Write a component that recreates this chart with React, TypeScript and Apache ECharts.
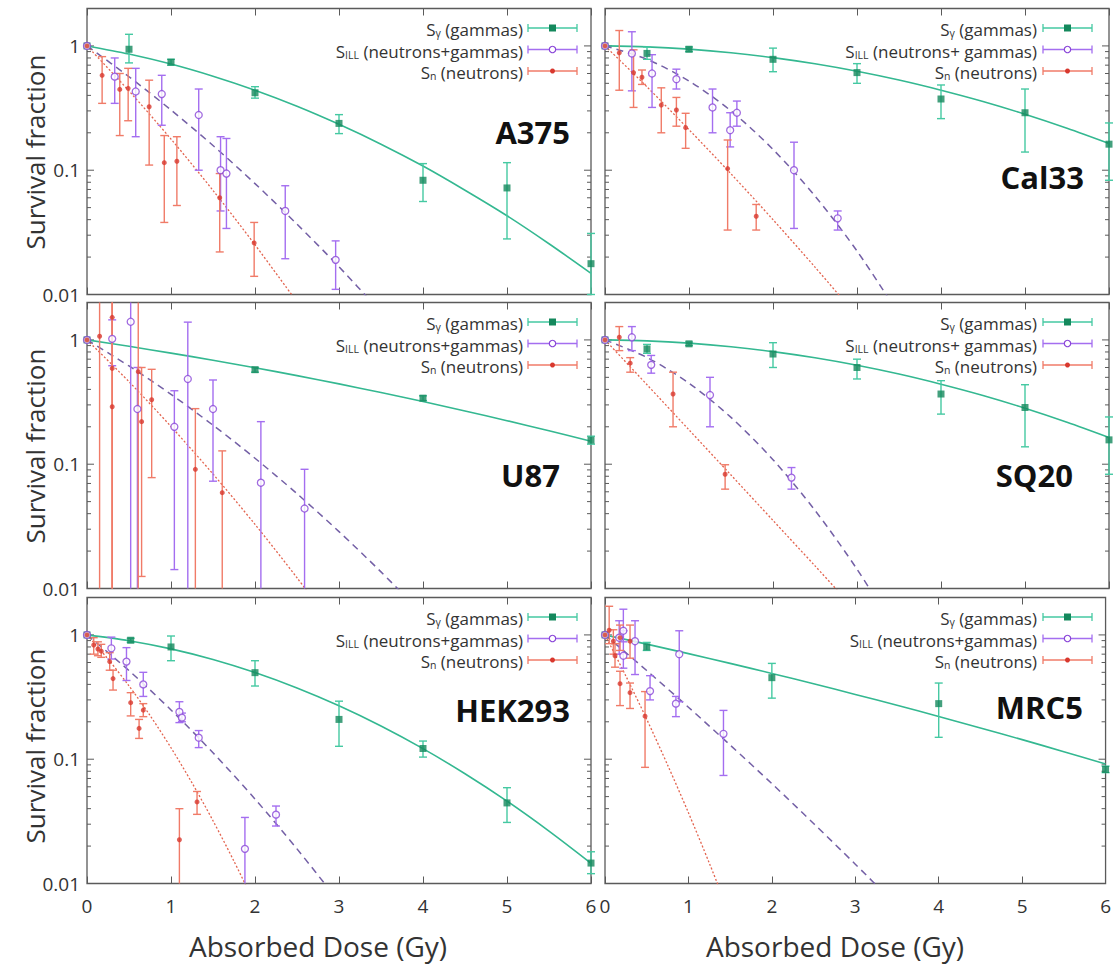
import React, { useEffect, useRef } from 'react';
import * as echarts from 'echarts';

const FONT = '"Open Sans", "DejaVu Sans", sans-serif';

// ---- axis ticks ----
const doseTicks = [0, 1, 2, 3, 4, 5, 6];
const sfMajorTicks = [0.01, 0.1, 1];
const sfMinorTicks = [0.02, 0.03, 0.04, 0.05, 0.06, 0.07, 0.08, 0.09, 0.2, 0.3, 0.4, 0.5, 0.6, 0.7, 0.8, 0.9];
const sfTickLabels = ['0.01', '0.1', '1'];

// ---- measured points: [dose (Gy), survival fraction, low, high] ----
const a375Gamma = [[0, 1, 1, 1], [0.5, 0.94, 0.73, 1.24], [1, 0.74, 0.7, 0.78], [2, 0.42, 0.38, 0.47], [3, 0.238, 0.197, 0.28], [4, 0.083, 0.056, 0.113], [5, 0.072, 0.028, 0.115], [6, 0.0177, 0.01, 0.031]];
const a375Ill = [[0, 1, 1, 1], [0.33, 0.566, 0.345, 0.8], [0.58, 0.43, 0.186, 0.66], [0.89, 0.41, 0.23, 0.58], [1.33, 0.278, 0.1, 0.45], [1.59, 0.1, 0.047, 0.186], [1.66, 0.094, 0.034, 0.18], [2.36, 0.047, 0.0194, 0.075], [2.96, 0.019, 0.011, 0.027]];
const a375N = [[0, 1, 1, 1], [0.18, 0.58, 0.345, 0.82], [0.39, 0.447, 0.19, 0.6], [0.49, 0.456, 0.25, 0.66], [0.74, 0.324, 0.11, 0.53], [0.92, 0.115, 0.038, 0.19], [1.07, 0.118, 0.052, 0.186], [1.58, 0.06, 0.022, 0.094], [1.99, 0.026, 0.014, 0.038]];

const cal33Gamma = [[0, 1, 1, 1], [0.5, 0.87, 0.78, 0.98], [1, 0.94, 0.9, 0.98], [2, 0.78, 0.62, 0.96], [3, 0.61, 0.5, 0.72], [4, 0.374, 0.26, 0.485], [5, 0.29, 0.14, 0.45], [6, 0.162, 0.083, 0.24]];
const cal33Ill = [[0, 1, 1, 1], [0.32, 0.87, 0.435, 1.3], [0.56, 0.6, 0.32, 0.85], [0.85, 0.54, 0.45, 0.65], [1.28, 0.32, 0.2, 0.45], [1.49, 0.21, 0.154, 0.29], [1.57, 0.29, 0.226, 0.36], [2.25, 0.1, 0.034, 0.168], [2.77, 0.041, 0.033, 0.047]];
const cal33N = [[0, 1, 1, 1], [0.17, 0.88, 0.44, 1.33], [0.34, 0.61, 0.32, 0.93], [0.44, 0.56, 0.49, 0.64], [0.67, 0.334, 0.2, 0.46], [0.85, 0.305, 0.226, 0.385], [0.96, 0.22, 0.15, 0.287], [1.46, 0.103, 0.033, 0.175], [1.8, 0.0426, 0.033, 0.053]];

const u87Gamma = [[0, 1, 1, 1], [2, 0.576, 0.55, 0.6], [4, 0.34, 0.325, 0.355], [6, 0.156, 0.145, 0.168]];
const u87Ill = [[0, 1, 1, 1], [0.3, 1.02, 0.62, 1.45], [0.52, 1.4, 0.005, 3], [0.6, 0.278, 0.005, 0.6], [1.04, 0.2, 0.0142, 0.39], [1.2, 0.485, 0.005, 1.39], [1.5, 0.278, 0.073, 0.476], [2.07, 0.071, 0.005, 0.22], [2.59, 0.044, 0.005, 0.091]];
const u87N = [[0, 1, 1, 1], [0.15, 1.07, 0.005, 3], [0.3, 1.52, 0.005, 3], [0.3, 0.59, 0.005, 3], [0.3, 0.29, 0.005, 3], [0.61, 0.555, 0.005, 3], [0.65, 0.22, 0.0125, 0.6], [0.77, 0.33, 0.078, 0.58], [1.29, 0.091, 0.005, 0.28], [1.61, 0.059, 0.005, 0.128]];

const sq20Gamma = [[0, 1, 1, 1], [0.5, 0.845, 0.78, 0.92], [1, 0.93, 0.9, 0.96], [2, 0.77, 0.6, 0.95], [3, 0.6, 0.485, 0.7], [4, 0.367, 0.253, 0.47], [5, 0.286, 0.138, 0.436], [6, 0.157, 0.083, 0.24]];
const sq20Ill = [[0, 1, 1, 1], [0.32, 1.05, 0.82, 1.28], [0.55, 0.63, 0.54, 0.75], [1.25, 0.36, 0.2, 0.5], [2.22, 0.078, 0.063, 0.094]];
const sq20N = [[0, 1, 1, 1], [0.17, 1.05, 0.82, 1.28], [0.3, 0.65, 0.55, 0.72], [0.81, 0.367, 0.2, 0.55], [1.43, 0.083, 0.063, 0.099]];

const hek293Gamma = [[0, 1, 1, 1], [0.52, 0.906, 0.87, 0.94], [1, 0.8, 0.62, 0.98], [2, 0.497, 0.388, 0.62], [3, 0.209, 0.127, 0.293], [4, 0.122, 0.104, 0.14], [5, 0.0445, 0.031, 0.059], [6, 0.0146, 0.012, 0.018]];
const hek293Ill = [[0, 1, 1, 1], [0.29, 0.78, 0.64, 0.96], [0.47, 0.61, 0.43, 0.79], [0.67, 0.4, 0.32, 0.5], [1.1, 0.24, 0.197, 0.29], [1.13, 0.216, 0.2, 0.235], [1.33, 0.149, 0.124, 0.17], [1.88, 0.019, 0.005, 0.034], [2.25, 0.0358, 0.029, 0.042]];
const hek293N = [[0, 1, 1, 1], [0.08, 0.83, 0.7, 0.95], [0.13, 0.77, 0.68, 0.88], [0.17, 0.74, 0.66, 0.84], [0.27, 0.61, 0.52, 0.72], [0.31, 0.445, 0.36, 0.52], [0.52, 0.285, 0.223, 0.343], [0.62, 0.177, 0.147, 0.209], [0.67, 0.248, 0.22, 0.28], [1.1, 0.0225, 0.005, 0.04], [1.31, 0.0453, 0.036, 0.055]];

const mrc5Gamma = [[0, 1, 1, 1], [0.5, 0.8, 0.75, 0.87], [2, 0.453, 0.31, 0.59], [4, 0.28, 0.15, 0.41], [6, 0.0826, 0.078, 0.088]];
const mrc5Ill = [[0, 1, 1, 1], [0.17, 0.95, 0.7, 1.3], [0.22, 1.08, 0.88, 1.61], [0.22, 0.68, 0.54, 1.08], [0.36, 0.89, 0.48, 1.3], [0.54, 0.353, 0.3, 0.47], [0.85, 0.28, 0.22, 0.32], [0.89, 0.7, 0.29, 1.08], [1.42, 0.16, 0.074, 0.247]];
const mrc5N = [[0, 1, 1, 1], [0.05, 1.09, 0.85, 1.7], [0.1, 0.89, 0.7, 1.1], [0.12, 0.68, 0.55, 0.85], [0.18, 0.95, 0.75, 1.2], [0.18, 0.405, 0.27, 0.51], [0.3, 0.89, 0.65, 1.2], [0.3, 0.343, 0.256, 0.41], [0.48, 0.222, 0.086, 0.35]];

// ---- fitted curves: [dose, survival fraction] ----
const a375GammaFit = [[0, 1], [0.5, 0.86], [1, 0.714], [1.5, 0.57], [2, 0.44], [2.5, 0.327], [3, 0.234], [3.5, 0.162], [4, 0.108], [4.5, 0.069], [5, 0.043], [5.5, 0.0256], [6, 0.0148]];
const a375IllFit = [[0, 1], [0.5, 0.565], [1, 0.305], [1.5, 0.158], [2, 0.078], [2.5, 0.0368], [3, 0.0167], [3.5, 0.0072]];
const a375NFit = [[0, 1], [0.5, 0.434], [1, 0.178], [1.5, 0.0688], [2, 0.0251], [2.5, 0.0087]];

const cal33GammaFit = [[0, 1], [0.5, 0.982], [1, 0.942], [1.5, 0.882], [2, 0.805], [2.5, 0.718], [3, 0.625], [3.5, 0.531], [4, 0.44], [4.5, 0.357], [5, 0.282], [5.5, 0.2175], [6, 0.164]];
const cal33IllFit = [[0, 1], [0.5, 0.781], [1, 0.522], [1.5, 0.3], [2, 0.147], [2.5, 0.062], [3, 0.0224], [3.5, 0.0069]];
const cal33NFit = [[0, 1], [0.5, 0.468], [1, 0.212], [1.5, 0.0935], [2, 0.04], [2.5, 0.0166], [3, 0.0067]];

const u87GammaFit = [[0, 1], [0.5, 0.888], [1, 0.783], [1.5, 0.686], [2, 0.597], [2.5, 0.516], [3, 0.443], [3.5, 0.377], [4, 0.319], [4.5, 0.268], [5, 0.224], [5.5, 0.1856], [6, 0.153]];
const u87IllFit = [[0, 1], [0.5, 0.617], [1, 0.365], [1.5, 0.206], [2, 0.1117], [2.5, 0.0579], [3, 0.0287], [3.5, 0.0136], [4, 0.0062]];
const u87NFit = [[0, 1], [0.5, 0.461], [1, 0.201], [1.5, 0.0834], [2, 0.0328], [2.5, 0.0122], [3, 0.0043]];

const sq20GammaFit = [[0, 1], [0.5, 0.982], [1, 0.942], [1.5, 0.882], [2, 0.805], [2.5, 0.718], [3, 0.625], [3.5, 0.531], [4, 0.44], [4.5, 0.357], [5, 0.282], [5.5, 0.2175], [6, 0.164]];
const sq20IllFit = [[0, 1], [0.5, 0.722], [1, 0.448], [1.5, 0.238], [2, 0.1087], [2.5, 0.0425], [3, 0.0143], [3.5, 0.0041]];
const sq20NFit = [[0, 1], [0.5, 0.436], [1, 0.189], [1.5, 0.0818], [2, 0.0353], [2.5, 0.0152], [3, 0.0065]];

const hek293GammaFit = [[0, 1], [0.5, 0.898], [1, 0.772], [1.5, 0.634], [2, 0.498], [2.5, 0.374], [3, 0.269], [3.5, 0.185], [4, 0.1216], [4.5, 0.0764], [5, 0.046], [5.5, 0.0264], [6, 0.01455]];
const hek293IllFit = [[0, 1], [0.5, 0.516], [1, 0.249], [1.5, 0.1127], [2, 0.0478], [2.5, 0.019], [3, 0.0071]];
const hek293NFit = [[0, 1], [0.25, 0.64], [0.5, 0.389], [0.75, 0.225], [1, 0.1236], [1.25, 0.0645], [1.5, 0.032], [1.75, 0.0151], [2, 0.0068]];

const mrc5GammaFit = [[0, 1], [0.5, 0.843], [1, 0.707], [1.5, 0.59], [2, 0.49], [2.5, 0.405], [3, 0.332], [3.5, 0.2716], [4, 0.2208], [4.5, 0.1786], [5, 0.1437], [5.5, 0.115], [6, 0.0916]];
const mrc5IllFit = [[0, 1], [0.5, 0.517], [1, 0.262], [1.5, 0.13], [2, 0.0636], [2.5, 0.0304], [3, 0.0143], [3.5, 0.0066]];
const mrc5NFit = [[0, 1], [0.25, 0.467], [0.5, 0.2096], [0.75, 0.09], [1, 0.0371], [1.25, 0.0146], [1.5, 0.0055]];

// ---- panel table ----
const panelNames = ['A375', 'Cal33', 'U87', 'SQ20', 'HEK293', 'MRC5'];
const gammaPoints = [a375Gamma, cal33Gamma, u87Gamma, sq20Gamma, hek293Gamma, mrc5Gamma];
const illPoints = [a375Ill, cal33Ill, u87Ill, sq20Ill, hek293Ill, mrc5Ill];
const nPoints = [a375N, cal33N, u87N, sq20N, hek293N, mrc5N];
const gammaFits = [a375GammaFit, cal33GammaFit, u87GammaFit, sq20GammaFit, hek293GammaFit, mrc5GammaFit];
const illFits = [a375IllFit, cal33IllFit, u87IllFit, sq20IllFit, hek293IllFit, mrc5IllFit];
const nFits = [a375NFit, cal33NFit, u87NFit, sq20NFit, hek293NFit, mrc5NFit];
const illLegendText = [' (neutrons+gammas)', ' (neutrons+ gammas)', ' (neutrons+gammas)', ' (neutrons+ gammas)', ' (neutrons+gammas)', ' (neutrons+gammas)'];

// ---- layout ----
const COL_X = [87, 605];
const ROW_Y = [8.5, 302.5, 597.5];
const GRID_W = 504;
const GRID_H = 286;
const LABEL_POS = [[570, 132], [1084, 177], [560, 475], [1073, 475], [570, 710], [1083, 707]];
const YTITLE_Y = [152, 446, 746];
const XTITLE_X = [318, 835];

const COL = {
  gLine: '#34b891', gErr: '#45c9a2', gMark: '#14885c',
  iLine: '#7460a6', iErr: '#a46ef0', iMark: '#8a46d8',
  nLine: '#e3644f', nErr: '#f07b68', nMark: '#d8382e',
  frame: '#5a5a5a', text: '#333333',
};

function errRender(color: string) {
  return (params: any, api: any) => {
    const d = api.value(0);
    const lo = api.value(2);
    const hi = api.value(3);
    if (!(hi > lo)) return { type: 'group', children: [] };
    const cs = params.coordSys;
    const pH = api.coord([d, hi]);
    const pL = api.coord([d, lo]);
    const top = cs.y;
    const bot = cs.y + cs.height;
    const x = pH[0];
    const st = { stroke: color, lineWidth: 1.4 };
    const ch: any[] = [
      { type: 'line', shape: { x1: x, y1: Math.max(pH[1], top), x2: x, y2: Math.min(pL[1], bot) }, style: st },
    ];
    const cw = 4;
    if (pH[1] >= top) ch.push({ type: 'line', shape: { x1: x - cw, y1: pH[1], x2: x + cw, y2: pH[1] }, style: st });
    if (pL[1] <= bot) ch.push({ type: 'line', shape: { x1: x - cw, y1: pL[1], x2: x + cw, y2: pL[1] }, style: st });
    return { type: 'group', children: ch };
  };
}

function tickRender(params: any, api: any) {
  const v = api.value(1);
  const major = api.value(2) === 1;
  const cs = params.coordSys;
  const y = api.coord([0, v])[1];
  const len = major ? 7 : 4;
  const st = { stroke: COL.frame, lineWidth: 1 };
  return {
    type: 'group',
    children: [
      { type: 'line', shape: { x1: cs.x, y1: y, x2: cs.x + len, y2: y }, style: st },
      { type: 'line', shape: { x1: cs.x + cs.width - len, y1: y, x2: cs.x + cs.width, y2: y }, style: st },
    ],
  };
}

function fmtSf(v: number) {
  for (let k = 0; k < sfMajorTicks.length; k++) {
    if (Math.abs(v - sfMajorTicks[k]) < sfMajorTicks[k] * 1e-6) return sfTickLabels[k];
  }
  return '';
}

function buildOption() {
  const grid: any[] = [];
  const xAxis: any[] = [];
  const yAxis: any[] = [];
  const series: any[] = [];
  const graphic: any[] = [];

  const tickData = [
    ...sfMajorTicks.map((v) => [0, v, 1]),
    ...sfMinorTicks.map((v) => [0, v, 0]),
  ];

  const rich = {
    s: { fontSize: 17, fontFamily: FONT, fill: COL.text, lineHeight: 18, verticalAlign: 'middle' },
    sub: { fontSize: 10.5, fontFamily: FONT, fill: COL.text, lineHeight: 10, verticalAlign: 'bottom' },
    t: { fontSize: 17, fontFamily: FONT, fill: COL.text, lineHeight: 18, verticalAlign: 'middle' },
  };

  panelNames.forEach((name, i) => {
    const r = Math.floor(i / 2);
    const c = i % 2;
    const left = COL_X[c];
    const top = ROW_Y[r];
    grid.push({ left, top, width: GRID_W, height: GRID_H, show: true, borderColor: COL.frame, borderWidth: 1.3, backgroundColor: 'transparent' });
    xAxis.push({
      type: 'value', gridIndex: i, min: doseTicks[0], max: doseTicks[doseTicks.length - 1], interval: 1,
      axisLine: { show: false }, splitLine: { show: false },
      axisTick: { inside: true, length: 7, lineStyle: { color: COL.frame, width: 1 } },
      axisLabel: { show: r === 2, fontSize: 19, color: COL.text, fontFamily: FONT, margin: 13 },
    });
    xAxis.push({
      type: 'value', gridIndex: i, position: 'top', min: doseTicks[0], max: doseTicks[doseTicks.length - 1], interval: 1,
      axisLine: { show: false }, splitLine: { show: false },
      axisTick: { inside: true, length: 7, lineStyle: { color: COL.frame, width: 1 } },
      axisLabel: { show: false },
    });
    yAxis.push({
      type: 'log', logBase: 10, gridIndex: i, min: 0.01, max: 2,
      axisLine: { show: false }, splitLine: { show: false }, axisTick: { show: false },
      axisLabel: { show: c === 0, fontSize: 19, color: COL.text, fontFamily: FONT, margin: 7, formatter: fmtSf },
    });
    const xi = 2 * i;
    const yi = i;
    series.push({
      type: 'custom', xAxisIndex: xi, yAxisIndex: yi, silent: true, renderItem: tickRender,
      data: tickData, encode: { x: 0, y: 1 }, z: 1,
    });
    const fits: [any[], string, any, number][] = [
      [gammaFits[i], COL.gLine, 'solid', 1.6],
      [illFits[i], COL.iLine, [7, 5], 1.5],
      [nFits[i], COL.nLine, [2, 2], 1.3],
    ];
    fits.forEach(([data, color, type, width]) => {
      series.push({
        type: 'line', xAxisIndex: xi, yAxisIndex: yi, data, smooth: 0.3, symbol: 'none', showSymbol: false,
        silent: true, clip: true, lineStyle: { color, type, width }, z: 2,
      });
    });
    const pts: [any[], string][] = [[gammaPoints[i], COL.gErr], [illPoints[i], COL.iErr], [nPoints[i], COL.nErr]];
    pts.forEach(([data, color]) => {
      series.push({
        type: 'custom', xAxisIndex: xi, yAxisIndex: yi, silent: true, renderItem: errRender(color),
        data, encode: { x: 0, y: 1 }, z: 3,
      });
    });
    series.push({
      type: 'scatter', xAxisIndex: xi, yAxisIndex: yi, silent: true, symbol: 'rect', symbolSize: 7,
      data: gammaPoints[i].map((p) => [p[0], p[1]]), itemStyle: { color: COL.gMark }, z: 4,
    });
    series.push({
      type: 'scatter', xAxisIndex: xi, yAxisIndex: yi, silent: true, symbol: 'circle', symbolSize: 7,
      data: illPoints[i].map((p) => [p[0], p[1]]), itemStyle: { color: '#ffffff', borderColor: COL.iMark, borderWidth: 1.3 }, z: 4,
    });
    series.push({
      type: 'scatter', xAxisIndex: xi, yAxisIndex: yi, silent: true, symbol: 'circle', symbolSize: 5,
      data: nPoints[i].map((p) => [p[0], p[1]]), itemStyle: { color: COL.nMark }, z: 4,
    });

    // legend
    const textRight = left + (c === 0 ? 436 : 432);
    const sL = left + (c === 0 ? 441 : 438);
    const sR = sL + 49;
    const entries: [string, string, string, string, string][] = [
      ['γ', ' (gammas)', COL.gErr, COL.gMark, 'rect'],
      ['ILL', illLegendText[i], COL.iErr, COL.iMark, 'open'],
      ['n', ' (neutrons)', COL.nErr, COL.nMark, 'dot'],
    ];
    entries.forEach(([sub, rest, lc, mc, kind], k) => {
      const y = top + 19.5 + k * 21.5;
      graphic.push({
        type: 'text', silent: true, z: 10,
        style: { text: `{s|S}{sub|${sub}}{t|${rest}}`, rich, x: textRight, y: y + 1.5, align: 'right', verticalAlign: 'middle', fill: COL.text },
      });
      const st = { stroke: lc, lineWidth: 1.3 };
      graphic.push({ type: 'line', silent: true, z: 10, shape: { x1: sL, y1: y, x2: sR, y2: y }, style: st });
      graphic.push({ type: 'line', silent: true, z: 10, shape: { x1: sL, y1: y - 4, x2: sL, y2: y + 4 }, style: st });
      graphic.push({ type: 'line', silent: true, z: 10, shape: { x1: sR, y1: y - 4, x2: sR, y2: y + 4 }, style: st });
      const mx = (sL + sR) / 2;
      if (kind === 'rect') graphic.push({ type: 'rect', silent: true, z: 11, shape: { x: mx - 3.5, y: y - 3.5, width: 7, height: 7 }, style: { fill: mc } });
      else if (kind === 'open') graphic.push({ type: 'circle', silent: true, z: 11, shape: { cx: mx, cy: y, r: 3.2 }, style: { fill: '#fff', stroke: mc, lineWidth: 1.2 } });
      else graphic.push({ type: 'circle', silent: true, z: 11, shape: { cx: mx, cy: y, r: 2.5 }, style: { fill: mc } });
    });

    // panel label
    graphic.push({
      type: 'text', silent: true, z: 10,
      style: { text: name, x: LABEL_POS[i][0], y: LABEL_POS[i][1], align: 'right', verticalAlign: 'middle', fontSize: 31, fontWeight: 'bold', fontFamily: FONT, fill: '#111' },
    });
  });

  YTITLE_Y.forEach((y) => {
    graphic.push({
      type: 'text', silent: true, x: 35, y, rotation: Math.PI / 2,
      style: { text: 'Survival fraction', x: 0, y: 0, align: 'center', verticalAlign: 'middle', fontSize: 26, fontFamily: FONT, fill: COL.text },
    });
  });
  XTITLE_X.forEach((x) => {
    graphic.push({
      type: 'text', silent: true, x, y: 946,
      style: { text: 'Absorbed Dose (Gy)', x: 0, y: 0, align: 'center', verticalAlign: 'middle', fontSize: 28, fontFamily: FONT, fill: COL.text },
    });
  });

  return { animation: false, backgroundColor: '#ffffff', grid, xAxis, yAxis, series, graphic };
}

export default function App() {
  const ref = useRef<HTMLDivElement>(null);
  useEffect(() => {
    if (!ref.current) return;
    const chart = echarts.init(ref.current, null, { renderer: 'svg' });
    chart.setOption(buildOption() as any);
    return () => chart.dispose();
  }, []);
  return <div ref={ref} style={{ position: 'absolute', left: 0, top: 0, width: 1114, height: 966 }} />;
}
